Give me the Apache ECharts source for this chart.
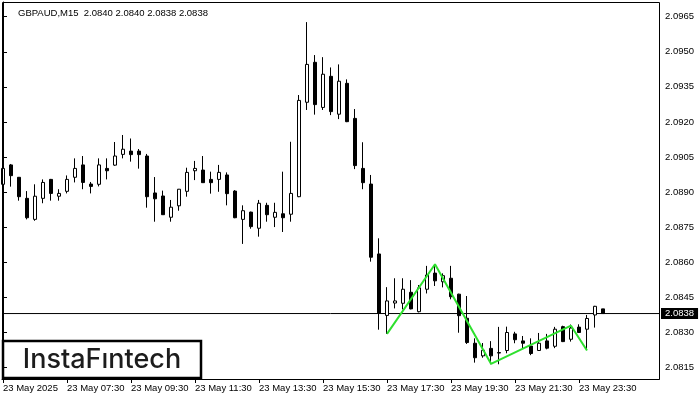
<!DOCTYPE html>
<html>
<head>
<meta charset="utf-8">
<script src="https://cdn.jsdelivr.net/npm/echarts@6/dist/echarts.min.js"></script>
<style>html,body{margin:0;padding:0;background:#fff}#c{width:700px;height:400px}</style>
</head>
<body>
<div id="c"></div>
<script>
// ---- data ----
const titleText = "GBPAUD,M15  2.0840 2.0840 2.0838 2.0838";
const opens  = [2.08933,2.09016,2.08963,2.08873,2.08783,2.08873,2.08954,2.08882,2.08903,2.08963,
                2.09016,2.08934,2.08933,2.09001,2.09015,2.09061,2.09075,2.09075,2.09054,2.08896,
                2.08883,2.08792,2.08841,2.08903,2.08991,2.08994,2.08954,2.08954,2.08973,2.08904,
                2.08783,2.08814,2.08745,2.08843,2.08792,2.08807,2.08805,2.08880,2.09284,2.09455,
                2.09262,2.09395,2.09233,2.09365,2.09215,2.09001,2.08934,2.08635,2.08372,2.08425,
                2.08424,2.08471,2.08388,2.08484,2.08553,2.08516,2.08531,2.08463,2.08360,2.08253,
                2.08199,2.08231,2.08213,2.08222,2.08293,2.08263,2.08241,2.08222,2.08263,2.08240,
                2.08324,2.08270,2.08322,2.08313,2.08374,2.08400];
const closes = [2.09001,2.08970,2.08880,2.08790,2.08882,2.08941,2.08894,2.08894,2.08954,2.09001,
                2.08941,2.08924,2.09016,2.08991,2.09054,2.09083,2.09060,2.09060,2.08880,2.08871,
                2.08803,2.08835,2.08912,2.08984,2.09001,2.08940,2.08940,2.08984,2.08893,2.08790,
                2.08820,2.08752,2.08852,2.08803,2.08813,2.08790,2.08894,2.09292,2.09446,2.09274,
                2.09404,2.09244,2.09374,2.09201,2.09013,2.08940,2.08621,2.08381,2.08434,2.08434,
                2.08484,2.08400,2.08490,2.08545,2.08520,2.08542,2.08452,2.08371,2.08256,2.08191,
                2.08223,2.08199,2.08211,2.08299,2.08268,2.08253,2.08209,2.08253,2.08232,2.08313,
                2.08260,2.08318,2.08299,2.08359,2.08411,2.08380];
const lows   = [2.08926,2.08923,2.08863,2.08783,2.08777,2.08852,2.08863,2.08863,2.08894,2.08941,
                2.08912,2.08894,2.08924,2.08954,2.09012,2.09044,2.09030,2.09000,2.08833,2.08773,
                2.08802,2.08773,2.08820,2.08880,2.08951,2.08940,2.08893,2.08901,2.08843,2.08788,
                2.08678,2.08743,2.08709,2.08773,2.08750,2.08729,2.08773,2.08878,2.09251,2.09231,
                2.09251,2.09229,2.09212,2.09199,2.08998,2.08912,2.08602,2.08311,2.08293,2.08402,
                2.08398,2.08398,2.08385,2.08466,2.08498,2.08492,2.08441,2.08298,2.08250,2.08170,
                2.08191,2.08163,2.08163,2.08210,2.08253,2.08232,2.08202,2.08220,2.08227,2.08232,
                2.08258,2.08260,2.08297,2.08224,2.08320,2.08380];
const highs  = [2.09016,2.09020,2.08964,2.08904,2.08933,2.08954,2.08956,2.08912,2.08971,2.09044,
                2.09054,2.08943,2.09044,2.09044,2.09114,2.09144,2.09129,2.09084,2.09063,2.08964,
                2.08906,2.08866,2.08913,2.09004,2.09033,2.09054,2.08987,2.09016,2.08984,2.08908,
                2.08843,2.08816,2.08866,2.08854,2.08854,2.08987,2.09115,2.09315,2.09627,2.09486,
                2.09477,2.09433,2.09446,2.09382,2.09255,2.09113,2.08973,2.08702,2.08493,2.08531,
                2.08531,2.08523,2.08502,2.08584,2.08591,2.08552,2.08584,2.08465,2.08455,2.08274,
                2.08254,2.08262,2.08323,2.08324,2.08302,2.08284,2.08274,2.08297,2.08293,2.08323,
                2.08328,2.08333,2.08334,2.08374,2.08413,2.08400];
const xLabelIdx  = [0, 8, 16, 24, 32, 40, 48, 56, 64, 72];
const xLabelText = ["23 May 2025","23 May 07:30","23 May 09:30","23 May 11:30","23 May 13:30",
                    "23 May 15:30","23 May 17:30","23 May 19:30","23 May 21:30","23 May 23:30"];
const yTicks = [2.0815,2.0830,2.0845,2.0860,2.0875,2.0890,2.0905,2.0920,2.0935,2.0950,2.0965];
const lastPrice = 2.0838;
const zigzagIdx = [48, 54, 61, 71, 73];
const zigzagVal = [2.08293, 2.08591, 2.08165, 2.08328, 2.08222];
const logoText = "InstaFıntech";

// ---- chart ----
const candleData = opens.map((o, i) => [i, o, closes[i], lows[i], highs[i]]);
const zigzagData = zigzagIdx.map((x, i) => [x, zigzagVal[i]]);
const priceLineData = [[-0.125, lastPrice], [82, lastPrice]];
const labelMap = {};
xLabelIdx.forEach((x, i) => { labelMap[x] = xLabelText[i]; });

const FONT = 'Liberation Sans, Arial, sans-serif';
const chart = echarts.init(document.getElementById('c'), null, {renderer: 'canvas'});
chart.setOption({
  animation: false,
  backgroundColor: '#ffffff',
  title: {
    text: titleText, left: 13, top: 3,
    textStyle: {fontFamily: FONT, fontSize: 9.5, fontWeight: 'normal', color: '#000'}
  },
  grid: {left: 2, top: 2, width: 657, height: 377, containLabel: false},
  xAxis: {
    type: 'value', min: -0.125, max: 82,
    axisLine: {show: true, lineStyle: {color: '#000', width: 1}},
    axisTick: {show: true, length: 4, customValues: xLabelIdx, lineStyle: {color: '#000'}},
    axisLabel: {
      show: true, customValues: xLabelIdx, align: 'left', margin: 4,
      fontFamily: FONT, fontSize: 9.5, color: '#000',
      formatter: v => labelMap[Math.round(v)] || ''
    },
    splitLine: {show: false}
  },
  yAxis: {
    type: 'value', position: 'right', min: 2.08100, max: 2.09713, scale: true,
    axisLine: {show: true, lineStyle: {color: '#000', width: 1}},
    axisTick: {show: true, length: 4, customValues: yTicks, lineStyle: {color: '#000'}},
    axisLabel: {
      show: true, customValues: yTicks, margin: 6,
      fontFamily: FONT, fontSize: 9.5, color: '#000',
      formatter: v => v.toFixed(4)
    },
    splitLine: {show: false}
  },
  series: [
    {
      type: 'line',
      data: priceLineData,
      showSymbol: false, symbol: 'none', silent: true,
      lineStyle: {color: '#000', width: 1},
      z: 1,
      endLabel: {
        show: true, distance: 2,
        formatter: () => lastPrice.toFixed(4),
        backgroundColor: '#000', color: '#fff', padding: [1, 4, 0, 4],
        fontFamily: FONT, fontSize: 9.5
      }
    },
    {
      type: 'candlestick',
      data: candleData,
      encode: {x: 0, y: [1, 2, 3, 4]},
      barWidth: 4,
      z: 2,
      itemStyle: {color: '#ffffff', color0: '#000000', borderColor: '#000000', borderColor0: '#000000', borderWidth: 1}
    },
    {
      type: 'line',
      data: zigzagData,
      showSymbol: false, symbol: 'none',
      lineStyle: {color: '#2ee02e', width: 2},
      z: 5
    }
  ],
  graphic: [
    {
      type: 'rect', silent: true, z: 100,
      shape: {x: 2.5, y: 2.5, width: 657, height: 377},
      style: {fill: 'none', stroke: '#000', lineWidth: 1}
    },
    {
      type: 'group', z: 110, silent: true,
      children: [
        {type: 'rect', shape: {x: 3, y: 341, width: 198, height: 37},
         style: {fill: '#fff', stroke: '#000', lineWidth: 2.5}},
        {type: 'text', x: 102, y: 360,
         style: {text: logoText, fill: '#1c1c1c', font: '500 27px Inter, "Noto Sans", sans-serif',
                 textAlign: 'center', textVerticalAlign: 'middle'}}
      ]
    }
  ]
});
</script>
</body>
</html>
